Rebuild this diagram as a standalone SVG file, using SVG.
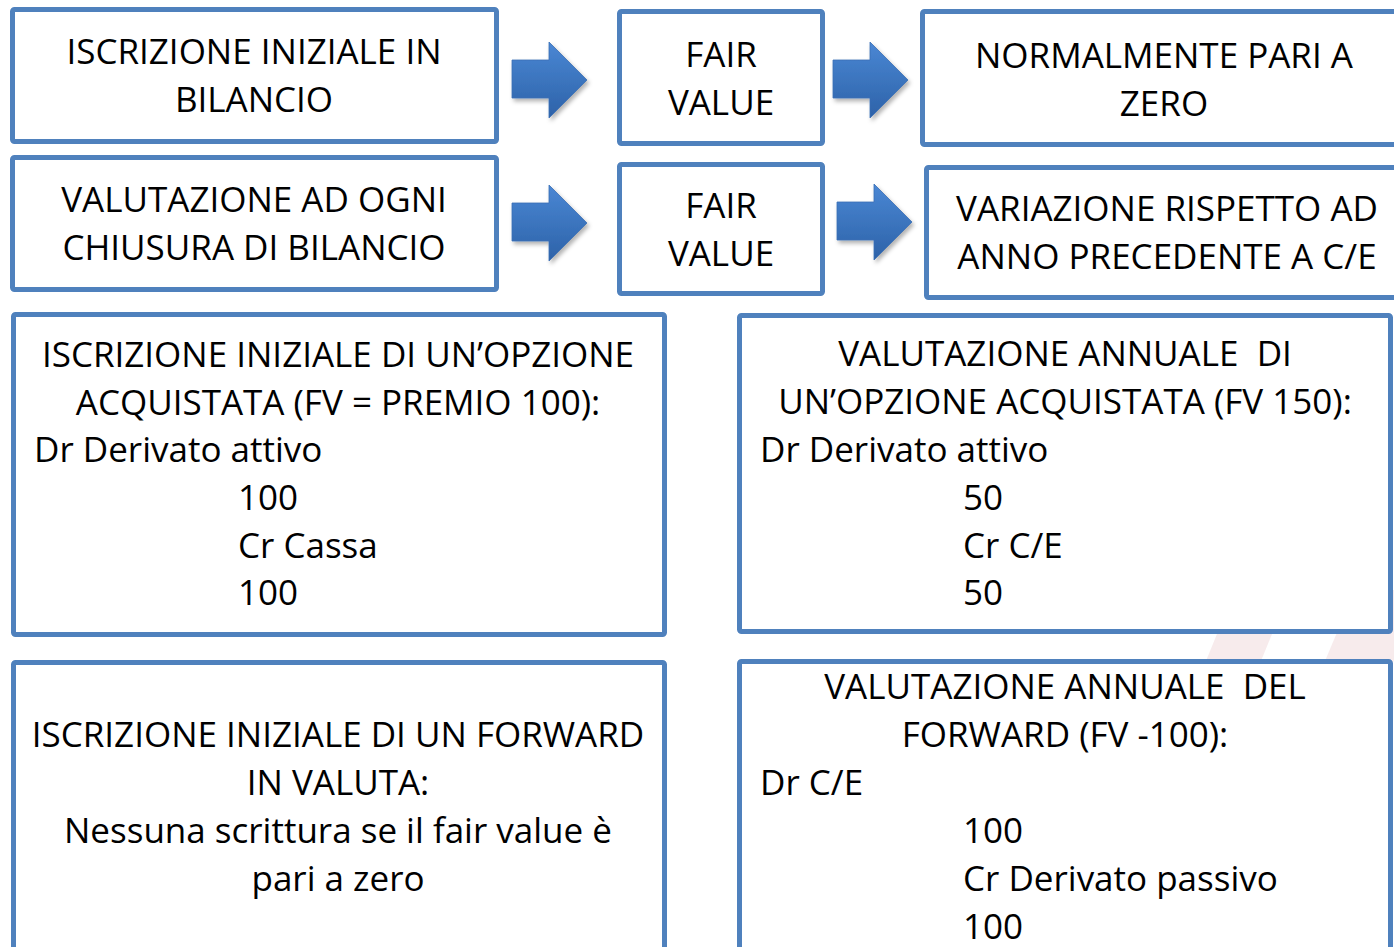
<svg xmlns="http://www.w3.org/2000/svg" width="1394" height="947" viewBox="0 0 1394 947">
  <style>
    .box { fill: #ffffff; stroke: #4f81bd; stroke-width: 5; }
    .t { font-family: "Open Sans", "Noto Sans", "DejaVu Sans", sans-serif; font-size: 35px; fill: #000000; }
    .c { text-anchor: middle; }
    .arrow { fill: url(#arrowGrad); stroke: #3a6fb5; stroke-width: 0.8; filter: url(#shadow); }
    .wm { fill: #f1dde0; opacity: 0.6; }
  </style>
  <defs>
    <linearGradient id="arrowGrad" x1="0" y1="0" x2="0" y2="1">
      <stop offset="0" stop-color="#4a87d4"/>
      <stop offset="1" stop-color="#2d62a8"/>
    </linearGradient>
    <filter id="shadow" x="-20%" y="-20%" width="150%" height="150%">
      <feDropShadow dx="2" dy="3" stdDeviation="2" flood-color="#000000" flood-opacity="0.3"/>
    </filter>
    <path id="blockArrow" d="M0,18 L37,18 L37,0 L75,38 L37,76 L37,56 L0,56 Z"/>
  </defs>

  <rect width="1394" height="947" fill="#ffffff"/>

  <!-- faint watermark -->
  <g id="watermark">
    <polygon class="wm" points="1190,700 1235,590 1290,590 1245,700"/>
    <polygon class="wm" points="1300,720 1355,590 1394,590 1394,660 1370,720"/>
  </g>

  <g id="connectors">
    <use href="#blockArrow" class="arrow" transform="translate(512,42)"/>
    <use href="#blockArrow" class="arrow" transform="translate(833,42)"/>
    <use href="#blockArrow" class="arrow" transform="translate(512,185)"/>
    <use href="#blockArrow" class="arrow" transform="translate(837,184)"/>
  </g>

  <g id="n1">
    <rect class="box" x="12.5" y="9.5" width="484" height="132" rx="2"/>
    <text class="t c" x="254" y="64">ISCRIZIONE INIZIALE IN</text>
    <text class="t c" x="254" y="112">BILANCIO</text>
  </g>
  <g id="n2">
    <rect class="box" x="619.5" y="11.5" width="203" height="132" rx="2"/>
    <text class="t c" x="721" y="67">FAIR</text>
    <text class="t c" x="721" y="115">VALUE</text>
  </g>
  <g id="n3">
    <rect class="box" x="922.5" y="11.5" width="480" height="133" rx="2"/>
    <text class="t c" x="1164" y="68">NORMALMENTE PARI A</text>
    <text class="t c" x="1164" y="116">ZERO</text>
  </g>

  <g id="n4">
    <rect class="box" x="12.5" y="157.5" width="484" height="132" rx="2"/>
    <text class="t c" x="254" y="212">VALUTAZIONE AD OGNI</text>
    <text class="t c" x="254" y="260">CHIUSURA DI BILANCIO</text>
  </g>
  <g id="n5">
    <rect class="box" x="619.5" y="164.5" width="203" height="129" rx="2"/>
    <text class="t c" x="721" y="218">FAIR</text>
    <text class="t c" x="721" y="266">VALUE</text>
  </g>
  <g id="n6">
    <rect class="box" x="926.5" y="167.5" width="480" height="130" rx="2"/>
    <text class="t c" x="1167" y="221">VARIAZIONE RISPETTO AD</text>
    <text class="t c" x="1167" y="269">ANNO PRECEDENTE A C/E</text>
  </g>

  <g id="n7">
    <rect class="box" x="13.5" y="314.5" width="651" height="320" rx="2"/>
    <text class="t c" x="338" y="367">ISCRIZIONE INIZIALE DI UN’OPZIONE</text>
    <text class="t c" x="338" y="415">ACQUISTATA (FV = PREMIO 100):</text>
    <text class="t" x="34" y="462">Dr Derivato attivo</text>
    <text class="t" x="238" y="510">100</text>
    <text class="t" x="238" y="558">Cr Cassa</text>
    <text class="t" x="238" y="605">100</text>
  </g>

  <g id="n8">
    <rect class="box" x="739.5" y="315.5" width="651" height="316" rx="2"/>
    <text class="t c" x="1065" y="366" xml:space="preserve">VALUTAZIONE ANNUALE  DI</text>
    <text class="t c" x="1065" y="414">UN’OPZIONE ACQUISTATA (FV 150):</text>
    <text class="t" x="760" y="462">Dr Derivato attivo</text>
    <text class="t" x="963" y="510">50</text>
    <text class="t" x="963" y="558">Cr C/E</text>
    <text class="t" x="963" y="605">50</text>
  </g>

  <g id="n9">
    <rect class="box" x="13.5" y="662.5" width="651" height="300" rx="2"/>
    <text class="t c" x="338" y="747">ISCRIZIONE INIZIALE DI UN FORWARD</text>
    <text class="t c" x="338" y="795">IN VALUTA:</text>
    <text class="t c" x="338" y="843">Nessuna scrittura se il fair value è</text>
    <text class="t c" x="338" y="891">pari a zero</text>
  </g>

  <g id="n10">
    <rect class="box" x="739.5" y="661.5" width="651" height="300" rx="2"/>
    <text class="t c" x="1065" y="699" xml:space="preserve">VALUTAZIONE ANNUALE  DEL</text>
    <text class="t c" x="1065" y="747">FORWARD (FV -100):</text>
    <text class="t" x="760" y="795">Dr C/E</text>
    <text class="t" x="963" y="843">100</text>
    <text class="t" x="963" y="891">Cr Derivato passivo</text>
    <text class="t" x="963" y="939">100</text>
  </g>
</svg>
